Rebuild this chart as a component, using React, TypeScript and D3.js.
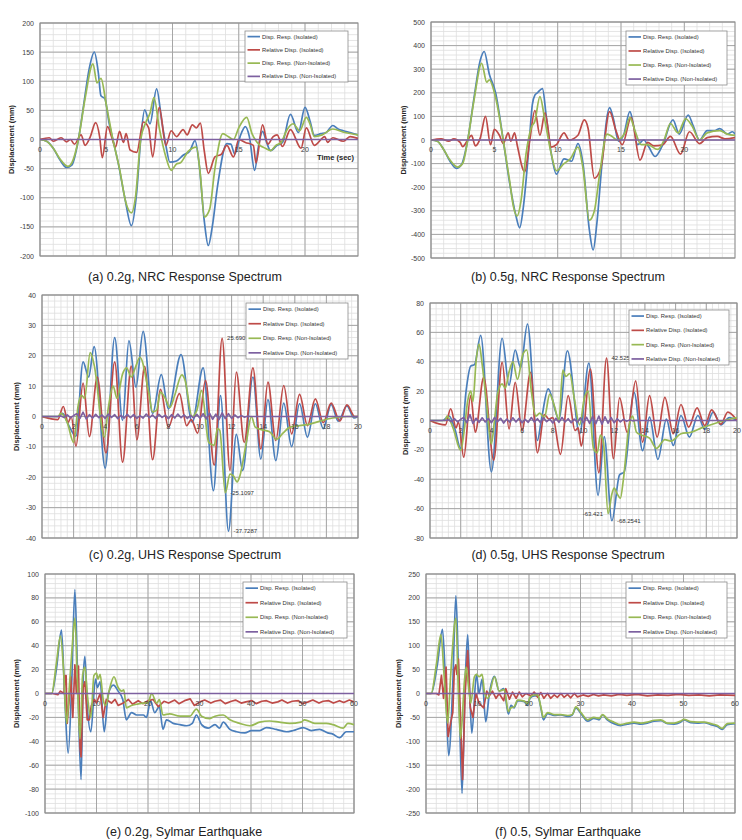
import React from 'react';
import * as d3 from 'd3';

type Pt = [number, number];

const seriesNames = [
  'Disp. Resp. (Isolated)',
  'Relative Disp. (Isolated)',
  'Disp. Resp. (Non-Isolated)',
  'Relative Disp. (Non-Isolated)',
];
const seriesColors = ['#4a7ebb', '#be4b48', '#98b954', '#7d60a0'];

// (a) 0.2g NRC
const blueA: Pt[] = [[0,0],[0.5,-3],[1.0,-15],[1.5,-35],[2.0,-48],[2.4,-44],[2.9,0],[3.3,60],[3.7,120],[4.1,150],[4.4,115],[4.6,75],[4.9,70],[5.2,30],[5.5,0],[5.9,-40],[6.4,-100],[6.9,-148],[7.3,-90],[7.6,0],[7.9,51],[8.3,27],[8.8,87],[9.2,30],[9.5,-10],[9.8,-39],[10.3,-37],[10.8,-27],[11.3,-20],[11.7,-2],[12.0,-40],[12.4,-140],[12.7,-182],[13.0,-150],[13.4,-80],[14.1,-7],[14.4,-8],[14.7,-25],[15.1,5],[15.5,22],[15.8,5],[16.2,-53],[16.5,-10],[16.8,14],[17.1,-5],[17.4,-19],[17.9,-10],[18.3,-5],[18.9,43],[19.5,12],[20.0,55],[20.4,30],[20.7,7],[21.2,10],[21.6,12],[22.1,24],[22.5,18],[22.9,15],[23.4,12],[24,8]];
const redA: Pt[] = [[0,0],[0.7,3],[1.0,-3],[1.3,0],[1.6,3],[2.0,-4],[2.3,0],[2.6,-8],[3.1,8],[3.4,-10],[3.8,5],[4.2,29],[4.5,5],[4.7,-31],[5.1,22],[5.4,5],[5.7,-13],[6.0,14],[6.3,-5],[6.5,10],[6.8,-18],[7.3,-22],[7.8,30],[8.2,20],[8.5,-30],[9.0,55],[9.5,-10],[9.9,15],[10.3,5],[10.8,17],[11.1,8],[11.5,25],[11.8,20],[12.1,28],[12.4,-20],[12.7,-58],[13.2,-30],[13.7,-25],[14.1,-10],[14.6,-30],[15.0,0],[15.5,-5],[16.1,-10],[16.3,-40],[16.8,25],[17.2,-8],[17.6,5],[17.9,8],[18.3,-12],[18.9,17],[19.7,-15],[20.1,20],[20.7,-10],[21.5,5],[21.7,-5],[22.1,3],[22.9,-3],[23.4,5],[24,2]];
const greenA: Pt[] = [[0,0],[0.5,-3],[1.0,-15],[1.5,-33],[2.1,-46],[2.4,-40],[2.9,0],[3.4,70],[4.0,130],[4.3,97],[4.6,105],[5.0,60],[5.5,0],[6.0,-50],[6.5,-110],[6.9,-126],[7.2,-100],[7.6,0],[8.0,30],[8.3,45],[8.6,72],[9.0,20],[9.5,-30],[9.9,-53],[10.3,-42],[10.6,-40],[11.2,-20],[11.8,-13],[12.1,-60],[12.4,-133],[12.8,-120],[13.2,-50],[13.8,10],[14.2,5],[14.6,0],[15.0,20],[15.6,38],[16.0,10],[16.6,-10],[17.0,-15],[17.4,-19],[17.8,-10],[18.2,-5],[18.6,15],[19.1,27],[19.6,15],[20.1,38],[20.4,25],[20.7,5],[21.3,8],[22.1,18],[23,12],[24,8]];
const purpleA: Pt[] = [[0,0],[24,0]];

// (b) 0.5g NRC
const blueB: Pt[] = [[0,0],[0.5,-5],[1.0,-40],[1.5,-90],[2.0,-120],[2.4,-105],[2.9,0],[3.4,180],[3.9,340],[4.2,375],[4.6,280],[5.1,200],[5.7,0],[6.2,-180],[6.7,-320],[7.0,-372],[7.3,-280],[7.7,-50],[8.0,150],[8.2,190],[8.4,200],[8.8,218],[9.1,100],[9.5,-60],[9.9,-145],[10.5,-80],[11.1,-90],[11.6,-15],[12.0,-100],[12.5,-380],[12.8,-466],[13.1,-350],[13.5,-100],[14.1,137],[14.4,90],[14.8,-5],[15.2,20],[15.7,120],[16.0,60],[16.3,-20],[16.8,0],[17.2,-30],[17.7,-70],[18.3,-20],[19.1,85],[19.6,25],[20.3,106],[20.7,60],[21.2,0],[21.8,40],[22.4,40],[22.8,48],[23.4,25],[23.8,35],[24,25]];
const redB: Pt[] = [[0,0],[0.8,5],[1.4,-5],[1.8,5],[2.3,-10],[2.5,-28],[2.9,0],[3.2,20],[3.5,-25],[3.9,10],[4.3,100],[4.7,-20],[5.0,45],[5.4,20],[5.7,-15],[6.1,30],[6.3,-5],[6.6,30],[6.8,-20],[7.4,-135],[7.8,0],[8.2,125],[8.6,20],[9.0,115],[9.5,-30],[9.9,-20],[10.5,30],[10.9,0],[11.6,20],[12.1,85],[12.4,50],[12.9,-162],[13.4,-120],[14.1,120],[14.6,40],[15.1,-20],[15.8,95],[16.5,-85],[17.1,-10],[17.6,-25],[18.3,-20],[18.9,15],[19.7,-60],[20.4,35],[21.2,-15],[21.8,10],[22.6,15],[23.2,5],[24,10]];
const greenB: Pt[] = [[0,0],[0.5,-5],[1.0,-40],[1.5,-85],[2.1,-115],[2.5,-100],[2.9,0],[3.4,170],[4.0,325],[4.4,245],[4.6,255],[5.1,180],[5.7,0],[6.2,-170],[6.5,-280],[6.8,-322],[7.1,-260],[7.5,-60],[7.9,50],[8.2,80],[8.6,184],[9.0,80],[9.5,-60],[9.9,-130],[10.5,-100],[11.0,-80],[11.6,-30],[12.0,-120],[12.5,-340],[12.9,-300],[13.3,-150],[13.9,25],[14.3,15],[14.7,0],[15.3,30],[15.7,95],[16.1,40],[16.6,-20],[17.1,-20],[17.9,-40],[18.4,0],[18.9,70],[19.5,30],[20.1,90],[20.6,60],[21.2,0],[21.8,30],[22.8,40],[23.4,25],[24,20]];
const purpleB: Pt[] = [[0,0],[24,0]];

// (c) 0.2g UHS
const blueC: Pt[] = [[0,0],[1.0,0],[1.3,1],[1.7,-3],[2.15,-6.5],[2.6,18],[2.95,13],[3.3,23],[4.0,-17],[4.6,26],[5.1,-1.3],[5.5,25],[5.95,9.7],[6.4,28],[7.0,1],[7.55,13.8],[8.0,2.5],[8.8,20.4],[9.5,-1.9],[10.2,16],[10.85,-24.4],[11.3,6.9],[11.8,-37.7287],[12.3,-5.9],[12.7,-17.8],[13.35,13],[13.85,-14],[14.3,5.6],[14.8,-14.5],[15.3,4.4],[15.8,-9.9],[16.3,4.2],[16.8,-6.8],[17.3,4.2],[17.8,-4],[18.3,4],[18.75,-1.5],[19.3,3.5],[19.75,-0.5],[20,0]];
const redC: Pt[] = [[0,0],[1.0,-1],[1.35,3.3],[1.65,-2],[1.85,0],[2.15,-9.8],[2.6,11],[3.0,-6.6],[3.5,13],[4.05,-12],[4.6,18],[5.1,-15],[5.65,16.6],[6.0,-7.7],[6.5,16.5],[7.0,-14.2],[7.5,8.9],[8.0,-3.5],[8.7,7.5],[9.15,-3],[9.45,-1],[9.85,-5.5],[10.35,11.9],[10.9,-16],[11.4,25.6907],[11.9,-17.8],[12.3,14.6],[12.8,-8.5],[13.35,16],[13.85,-10.7],[14.3,11.3],[14.8,-7.9],[15.3,10.2],[15.8,-5.7],[16.3,7.3],[16.8,-3],[17.3,5.8],[17.8,-2],[18.3,4.4],[18.85,-1.5],[19.3,3.8],[19.8,0],[20,0]];
const greenC: Pt[] = [[0,0],[1.0,0],[1.2,1],[1.6,-2],[2.0,-8.5],[2.3,4],[2.5,7],[2.7,6],[3.05,21],[3.3,17],[3.95,-6.8],[4.2,3],[4.5,10],[4.75,6],[5.1,14],[5.35,16],[5.65,13],[5.9,16],[6.2,19.5],[6.75,8],[7.0,1.5],[7.25,2],[7.5,8],[7.8,6],[8.1,3],[8.4,7],[8.85,13.7],[9.05,12],[9.5,0],[9.8,2],[10.1,8.6],[10.55,-8.5],[10.9,-9.5],[11.1,-4],[11.25,-4.5],[11.6,-25.1097],[11.9,-19],[12.1,-19.5],[12.35,-21.5],[12.5,-20],[12.95,-8],[13.25,0],[13.5,-3.5],[14.0,-4.5],[14.4,-5],[14.85,-7.5],[15.25,-5.5],[15.7,-3.5],[16.3,-3],[16.95,-2.5],[17.6,-1.5],[18.4,-0.5],[19.3,0],[20,0]];
const purpleCNoise = [0,0.2,-0.3,0.5,-0.4,0.3,0.9,-0.6,1.4,-0.8,0.6,-0.5,0.7,-0.4,0.5,-0.6,0.8,-0.3,0.6,-0.7,0.4,-0.5,0.7,-0.4,0.6,-0.6,0.3,-0.5,0.8,-0.4,0.5,-0.6,0.7,-0.3,0.4,-0.7,0.6,-0.5,0.8,-0.4,0.5,-0.6,0.4,-0.5,0.7,-0.6,0.9,-0.8,1.1,-0.9,0.8,-1.0,1.2,-0.7,0.9,-0.6,0.5,-0.4,0.3,-0.2,0.1,0,0];

// (d) 0.5g UHS
const blueD: Pt[] = [[0,0],[0.8,0],[1.25,3],[1.6,-5],[2.0,-19],[2.35,20],[2.65,37],[2.9,38],[3.3,58],[4.0,-35],[4.7,56],[5.15,24],[5.55,48],[5.9,36],[6.35,65.7],[7.0,-13.6],[7.25,0],[7.7,21.5],[8.4,1],[8.95,47.5],[9.75,-9],[10.35,39],[10.95,-51],[11.35,-11],[11.85,-68.2541],[12.35,-37],[12.65,-35],[13.3,19],[13.85,-20.5],[14.3,2.3],[14.85,-26.5],[15.4,1],[15.85,-17],[16.35,3.4],[16.9,-11.3],[17.45,3.4],[17.9,-6],[18.45,5.7],[18.95,-3],[19.5,2],[20,0]];
const redD: Pt[] = [[0,0],[1.0,-3],[1.35,8],[1.7,-5],[1.85,-1],[2.2,-25],[2.65,17],[2.95,-8],[3.5,29.4],[4.15,-27],[4.7,39.6],[5.15,-5.7],[5.55,26],[6.0,-6.8],[6.55,32.8],[7.0,-22],[7.45,4],[7.75,1],[8.0,2],[8.5,-23],[9.0,17],[9.45,-6.8],[9.65,-5],[9.85,-17.4],[10.45,35],[11.0,-35.5],[11.5,42.525],[11.95,-26],[12.35,15.4],[12.85,-8],[13.4,27],[13.85,-14.7],[14.3,17],[14.8,-11.3],[15.3,15.8],[15.85,-9],[16.35,10.9],[16.85,-4.5],[17.4,8.6],[17.9,-3.5],[18.35,7.2],[18.95,-2.5],[19.4,5.7],[20,0]];
const greenD: Pt[] = [[0,0],[1.0,0],[1.1,3],[1.5,-5],[2.0,-20.4],[2.25,-5],[2.45,13],[2.65,20],[2.8,13],[3.0,40],[3.2,52],[3.4,38],[3.65,15],[4.0,-16],[4.2,0],[4.4,18],[4.7,25],[4.9,22],[5.15,33],[5.4,40],[5.7,28],[6.05,45],[6.3,48],[6.6,20],[6.9,3],[7.15,5],[7.45,2],[7.8,18],[8.1,10],[8.4,0],[8.65,34.4],[8.85,30],[9.1,32],[9.4,15],[9.75,-3],[10.05,15],[10.3,20],[10.65,-19],[10.9,-22],[11.1,-10],[11.3,-15],[11.6,-63.421],[11.85,-50],[12.0,-46],[12.2,-50],[12.4,-53],[12.6,-40],[12.95,-5],[13.2,3],[13.45,-8],[13.8,-10],[14.3,-12],[14.75,-19],[15.3,-13],[15.7,-14],[16.35,-9],[17.0,-8],[17.7,-5],[18.55,-2],[19.2,0],[20,2]];
const purpleDNoise = [0,0.5,-0.8,1.2,-1.0,0.8,2.0,-1.5,4.0,-2.0,1.5,-1.2,1.8,-1.0,1.3,-1.5,2.0,-0.8,1.5,-1.7,1.0,-1.2,1.8,-1.0,1.5,-1.5,0.8,-1.2,2.0,-1.0,1.2,-1.5,1.8,-0.8,1.0,-1.7,1.5,-1.2,2.0,-1.0,1.2,-1.5,1.0,-1.2,1.8,-1.5,2.2,-2.0,2.8,-2.2,3.0,-2.5,2.5,-1.8,2.0,-1.5,1.2,-1.0,0.8,-0.5,0.4,-0.2,0.1,0,0];

// (e) 0.2g Sylmar
const blueE: Pt[] = [[0,0],[1.3,0],[2.2,20],[3.2,53],[3.8,0],[4.5,-50],[5.2,10],[5.8,87],[6.3,20],[7.0,-72],[7.4,10],[7.75,31],[8.2,-10],[8.9,-32],[9.8,12],[10.2,5],[10.7,10],[11.5,-32],[12.3,0],[13.3,7],[14.2,2],[15.1,-5],[15.8,-22],[16.8,-16],[17.8,-18],[19.1,-18],[19.7,-20],[20.5,-6],[21.3,-16],[22.2,-11],[22.9,-30],[23.6,-22],[24.9,-25],[26.2,-26],[27.5,-27],[28.6,-25],[29.4,-18],[30.4,-26],[31.7,-29],[33.0,-26],[33.9,-29],[34.6,-24],[35.9,-30],[37.2,-32],[38.8,-33],[40.1,-31],[41.7,-31],[43.0,-28.5],[44.9,-30],[46.9,-32],[48.2,-31],[50.1,-28.5],[51.7,-31],[53.3,-30],[54.9,-33],[55.9,-34],[57.2,-37],[58.5,-32],[60,-32]];
const redE: Pt[] = [[0,0],[1.5,0],[2.5,-1],[3.0,2],[3.7,0],[3.9,15],[4.1,15],[4.3,-25],[4.7,-5],[5.0,14],[5.4,-20],[5.8,24],[6.1,0],[6.5,23],[6.8,-45],[7.0,-53],[7.4,5],[7.75,10],[8.2,-22],[8.6,-22],[9.0,-10],[9.6,-5],[10.0,-8],[10.7,0],[11.3,-20],[11.9,-5],[12.9,-8],[13.6,-5],[14.2,-10],[15.2,-8],[16.2,-5],[17.0,-9],[18.1,-6],[19.0,-8.5],[20.0,-6],[21.0,-5],[22.0,-11],[23.1,-6.5],[24.0,-8],[25.2,-5.5],[26.0,-8.5],[27.1,-6],[28.2,-4.5],[29.0,-10],[30.1,-7],[31.0,-5.5],[32.2,-8],[33.0,-6.5],[34.1,-5.5],[35.0,-8.5],[36.2,-6.5],[37.0,-5.5],[38.1,-8],[39.0,-7],[40.2,-6],[41.0,-8.5],[42.1,-6.5],[43.0,-6],[44.1,-8],[45.2,-7],[46.0,-5.5],[47.1,-8],[48.0,-6.5],[49.2,-6],[50.0,-8.5],[51.1,-7],[52.0,-5.5],[53.2,-8],[54.0,-6.5],[55.1,-6],[56.0,-8],[57.2,-6],[58.0,-7.5],[59.1,-5.5],[60,-7]];
const greenE: Pt[] = [[0,0],[1.3,0],[2.2,25],[3.0,48],[3.6,20],[4.2,-25],[4.8,10],[5.3,40],[5.8,63],[6.3,10],[6.8,-38],[7.3,15],[7.75,22],[8.2,0],[8.9,-20],[9.5,15],[10.0,17],[10.3,12],[10.7,16],[11.3,-5],[11.8,-10],[12.6,5],[13.4,14],[14.2,5],[14.9,2],[15.3,3],[15.8,-12],[16.8,-10],[17.8,-9],[19.1,-8],[20.0,-8],[20.7,0],[21.7,-8],[22.2,-5],[22.9,-18],[24.2,-17],[26.2,-19],[28.1,-19],[29.4,-13],[30.4,-19],[32.0,-21],[33.0,-19],[34.6,-18],[35.9,-22],[37.8,-25],[39.8,-27],[41.7,-24],[43.6,-23],[45.5,-24],[47.5,-25],[49.7,-24],[50.4,-22],[52.4,-25],[54.6,-25],[55.9,-26],[57.9,-29],[58.8,-25],[60,-26]];
const purpleE: Pt[] = [[0,0],[60,0]];

// (f) 0.5g Sylmar
const blueF: Pt[] = [[0,0],[1.0,0],[2.2,60],[3.2,134],[3.8,20],[4.4,-130],[5.2,20],[5.8,205],[6.3,50],[7.0,-209],[7.6,20],[8.1,123],[8.5,0],[8.9,-83],[9.8,40],[10.3,0],[10.9,30],[11.6,-59],[12.3,0],[13.3,36],[14.2,5],[15.1,10],[16.0,-43],[16.5,-25],[17.1,-30],[17.8,-15],[19.1,-17],[19.7,-25],[20.2,-10],[21.0,-5],[21.7,-5],[22.3,-30],[22.8,-55],[23.6,-42],[24.9,-46],[26.2,-45],[27.5,-48],[28.4,-45],[29.1,-30],[30.1,-42],[31.4,-58],[32.6,-52],[33.6,-55],[34.3,-45],[35.2,-55],[36.5,-63],[37.8,-67],[39.1,-64],[40.4,-62],[41.7,-64],[43.0,-62],[44.3,-58],[45.6,-57],[46.9,-63],[48.2,-64],[49.4,-60],[50.1,-55],[51.4,-61],[52.7,-62],[54.0,-61],[55.3,-65],[56.6,-69],[57.5,-75],[58.5,-65],[60,-63]];
const redF: Pt[] = [[0,0],[2.0,0],[2.5,-3],[3.0,38],[3.4,-10],[3.9,55],[4.3,-90],[4.8,-60],[5.2,-40],[5.5,50],[5.8,60],[6.0,40],[6.3,72],[6.7,-50],[7.1,-180],[7.6,0],[8.1,90],[8.6,-30],[9.1,-50],[9.7,0],[10.3,-20],[11.2,-30],[11.8,5],[12.3,-5],[12.9,5],[13.6,-10],[14.2,0],[15.1,-15],[15.5,10],[16.2,-12],[16.8,3],[17.5,-10],[18.1,3],[18.7,-7],[19.4,0],[20.4,-5],[21.0,3],[21.7,-8],[22.3,2],[22.9,-10],[23.6,0],[24.2,-10],[24.9,-3],[25.5,-8],[26.2,0],[26.8,-8],[27.5,-2],[28.1,-9],[28.8,0],[29.4,-7],[30.5,-3],[31.5,-6],[32.5,-2],[33.5,-5],[34.5,-3],[36,-5],[37.5,-2],[39,-4],[41,-2],[43,-5],[45,-3],[47,-4],[49,-2],[51,-4],[53,-3],[55,-5],[57,-3],[60,-4]];
const greenF: Pt[] = [[0,0],[1.0,0],[2.0,60],[2.9,123],[3.5,40],[4.2,-62],[4.8,40],[5.8,158],[6.3,0],[6.7,-94],[7.5,30],[7.8,55],[8.2,20],[8.7,-20],[9.4,35],[9.8,40],[10.3,35],[10.9,40],[11.4,0],[12.0,-10],[13.3,35],[14.2,5],[15.2,8],[16.0,-38],[16.5,-30],[17.1,-28],[17.8,-14],[19.1,-16],[19.7,-22],[20.2,-8],[21.0,-3],[21.7,-3],[22.3,-28],[22.8,-50],[23.6,-40],[24.9,-44],[26.2,-44],[27.5,-46],[28.4,-44],[29.1,-28],[30.1,-40],[31.4,-55],[32.6,-50],[33.6,-52],[34.3,-44],[35.2,-53],[36.5,-60],[37.8,-65],[39.1,-62],[40.4,-60],[41.7,-62],[43.0,-60],[44.3,-56],[45.6,-55],[46.9,-62],[48.2,-62],[49.4,-58],[50.1,-54],[51.4,-59],[52.7,-60],[54.0,-60],[55.3,-63],[56.6,-67],[57.5,-73],[58.5,-63],[60,-62]];
const purpleF: Pt[] = [[0,0],[60,0]];

// noisy relative-displacement records sampled every 0.2 s from t = 1 s
const noiseSeries = (vals: number[], tEnd: number): Pt[] => [
  [0, 0],
  ...vals.map((v, i): Pt => [1 + i * 0.2, v]),
  [tEnd, 0],
];

interface Note { t: number; v: number; text: string; side: 'left' | 'right'; }
interface PanelDef {
  caption: string;
  cap: [number, number];
  plot: { x0: number; x1: number; y0: number; y1: number };
  xMax: number; xMajor: number; xMinor: number;
  yMax: number; yMajor: number; yMinor: number;
  series: Pt[][];
  smooth: boolean[];
  legend: { x: number; y: number; w: number; h: number };
  labelX: number;
  timeLabel?: boolean;
  notes?: Note[];
}

const panels: PanelDef[] = [
  {
    caption: '(a) 0.2g, NRC Response Spectrum', cap: [185, 281],
    plot: { x0: 40, x1: 358, y0: 23, y1: 256 },
    xMax: 24, xMajor: 5, xMinor: 1, yMax: 200, yMajor: 50, yMinor: 10,
    series: [blueA, redA, greenA, purpleA], smooth: [true, true, true, false],
    legend: { x: 245, y: 31, w: 103, h: 51 }, labelX: 13.7, timeLabel: true,
  },
  {
    caption: '(b) 0.5g, NRC Response Spectrum', cap: [568, 281],
    plot: { x0: 431, x1: 735, y0: 22, y1: 258 },
    xMax: 24, xMajor: 5, xMinor: 1, yMax: 500, yMajor: 100, yMinor: 20,
    series: [blueB, redB, greenB, purpleB], smooth: [true, true, true, false],
    legend: { x: 626, y: 31, w: 101, h: 54 }, labelX: 405.7,
  },
  {
    caption: '(c) 0.2g, UHS Response Spectrum', cap: [185, 559],
    plot: { x0: 42, x1: 358, y0: 295, y1: 538 },
    xMax: 20, xMajor: 2, xMinor: 0.4, yMax: 40, yMajor: 10, yMinor: 2,
    series: [blueC, redC, greenC, noiseSeries(purpleCNoise, 20)], smooth: [true, true, true, false],
    legend: { x: 246, y: 303, w: 102, h: 56 }, labelX: 18.7,
    notes: [
      { t: 11.4, v: 25.6907, text: '25.6907', side: 'right' },
      { t: 11.6, v: -25.1097, text: '-25.1097', side: 'right' },
      { t: 11.8, v: -37.7287, text: '-37.7287', side: 'right' },
    ],
  },
  {
    caption: '(d) 0.5g, UHS Response Spectrum', cap: [568, 559],
    plot: { x0: 430, x1: 737, y0: 303, y1: 538 },
    xMax: 20, xMajor: 2, xMinor: 0.4, yMax: 80, yMajor: 20, yMinor: 4,
    series: [blueD, redD, greenD, noiseSeries(purpleDNoise, 20)], smooth: [true, true, true, false],
    legend: { x: 629, y: 310, w: 100, h: 55 }, labelX: 407.7,
    notes: [
      { t: 11.5, v: 42.525, text: '42.525', side: 'right' },
      { t: 11.6, v: -63.421, text: '-63.421', side: 'left' },
      { t: 11.85, v: -68.2541, text: '-68.2541', side: 'right' },
    ],
  },
  {
    caption: '(e) 0.2g, Sylmar Earthquake', cap: [184, 836],
    plot: { x0: 45, x1: 354, y0: 574, y1: 813 },
    xMax: 60, xMajor: 10, xMinor: 2, yMax: 100, yMajor: 20, yMinor: 4,
    series: [blueE, redE, greenE, purpleE], smooth: [true, false, true, false],
    legend: { x: 243, y: 582, w: 104, h: 56 }, labelX: 18.7,
  },
  {
    caption: '(f) 0.5, Sylmar Earthquake', cap: [568, 836],
    plot: { x0: 426, x1: 735, y0: 574, y1: 813 },
    xMax: 60, xMajor: 10, xMinor: 2, yMax: 250, yMajor: 50, yMinor: 10,
    series: [blueF, redF, greenF, purpleF], smooth: [true, false, true, false],
    legend: { x: 626, y: 582, w: 101, h: 56 }, labelX: 400.7,
  },
];

const font = '"Liberation Sans", Arial, sans-serif';

const Panel = ({ def, idx }: { def: PanelDef; idx: number }) => {
  const { x0, x1, y0, y1 } = def.plot;
  const x = d3.scaleLinear().domain([0, def.xMax]).range([x0, x1]);
  const y = d3.scaleLinear().domain([-def.yMax, def.yMax]).range([y1, y0]);
  const eps = 1e-9;
  const xMinor = d3.range(0, def.xMax + eps, def.xMinor);
  const xMajor = d3.range(0, def.xMax + eps, def.xMajor);
  const yMinor = d3.range(-def.yMax, def.yMax + eps, def.yMinor);
  const yMajor = d3.range(-def.yMax, def.yMax + eps, def.yMajor);
  const clipId = `clip-${idx}`;
  const { legend: lg } = def;

  return (
    <g fontFamily={font}>
      <defs>
        <clipPath id={clipId}>
          <rect x={x0} y={y0} width={x1 - x0} height={y1 - y0} />
        </clipPath>
      </defs>
      <rect x={x0} y={y0} width={x1 - x0} height={y1 - y0} fill="#fff" />
      {xMinor.map((t, i) => (
        <line key={`xm${i}`} x1={x(t)} x2={x(t)} y1={y0} y2={y1} stroke="#dedede" strokeWidth={0.8} />
      ))}
      {yMinor.map((v, i) => (
        <line key={`ym${i}`} x1={x0} x2={x1} y1={y(v)} y2={y(v)} stroke="#dedede" strokeWidth={0.8} />
      ))}
      {xMajor.map((t, i) => (
        <line key={`xM${i}`} x1={x(t)} x2={x(t)} y1={y0} y2={y1} stroke="#a6a6a6" strokeWidth={1} />
      ))}
      {yMajor.map((v, i) => (
        <line key={`yM${i}`} x1={x0} x2={x1} y1={y(v)} y2={y(v)} stroke="#a6a6a6" strokeWidth={1} />
      ))}
      <rect x={x0} y={y0} width={x1 - x0} height={y1 - y0} fill="none" stroke="#8c8c8c" strokeWidth={1} />

      <g clipPath={`url(#${clipId})`}>
        {def.series.map((s, i) => {
          const line = d3
            .line<Pt>()
            .x((d) => x(d[0]))
            .y((d) => y(d[1]))
            .curve(def.smooth[i] ? d3.curveMonotoneX : d3.curveLinear);
          return (
            <path key={i} d={line(s) || ''} fill="none" stroke={seriesColors[i]}
              strokeWidth={1.7} strokeLinejoin="round" strokeLinecap="round" />
          );
        })}
      </g>

      {yMajor.map((v, i) => (
        <text key={`yl${i}`} x={x0 - 6} y={y(v) + 2.5} fontSize={7} textAnchor="end" fill="#404040">
          {v}
        </text>
      ))}
      {xMajor.map((t, i) => (
        <text key={`xl${i}`} x={x(t)} y={y(0) + 12} fontSize={7} textAnchor="middle" fill="#404040">
          {t}
        </text>
      ))}
      {def.timeLabel && (
        <text x={354} y={160} fontSize={7.5} fontWeight="bold" textAnchor="end" fill="#262626">
          Time (sec)
        </text>
      )}
      <text
        transform={`translate(${def.labelX},${y(0)}) rotate(-90)`}
        fontSize={7.5}
        fontWeight="bold"
        textAnchor="middle"
        fill="#262626"
      >
        Displacement (mm)
      </text>

      {(def.notes || []).map((n, i) => (
        <text
          key={`n${i}`}
          x={x(n.t) + (n.side === 'right' ? 5 : -5)}
          y={y(n.v) + 2}
          fontSize={6}
          textAnchor={n.side === 'right' ? 'start' : 'end'}
          fill="#333"
        >
          {n.text}
        </text>
      ))}

      <rect x={lg.x} y={lg.y} width={lg.w} height={lg.h} fill="#fff" stroke="#8c8c8c" strokeWidth={0.8} />
      {seriesNames.map((name, i) => {
        const ry = lg.y + lg.h * (0.11 + 0.26 * i);
        return (
          <g key={name}>
            <line x1={lg.x + 2.5} x2={lg.x + 15} y1={ry} y2={ry} stroke={seriesColors[i]} strokeWidth={1.7} />
            <text x={lg.x + 17} y={ry + 2} fontSize={5.8} fill="#333">
              {name}
            </text>
          </g>
        );
      })}

      <text x={def.cap[0]} y={def.cap[1]} fontSize={12.5} textAnchor="middle" fill="#222">
        {def.caption}
      </text>
    </g>
  );
};

const App = () => (
  <svg
    width={742}
    height={840}
    viewBox="0 0 742 840"
    style={{ position: 'absolute', left: 0, top: 0, background: '#fff' }}
  >
    <rect width={742} height={840} fill="#fff" />
    {panels.map((p, i) => (
      <Panel key={i} def={p} idx={i} />
    ))}
  </svg>
);

export default App;
